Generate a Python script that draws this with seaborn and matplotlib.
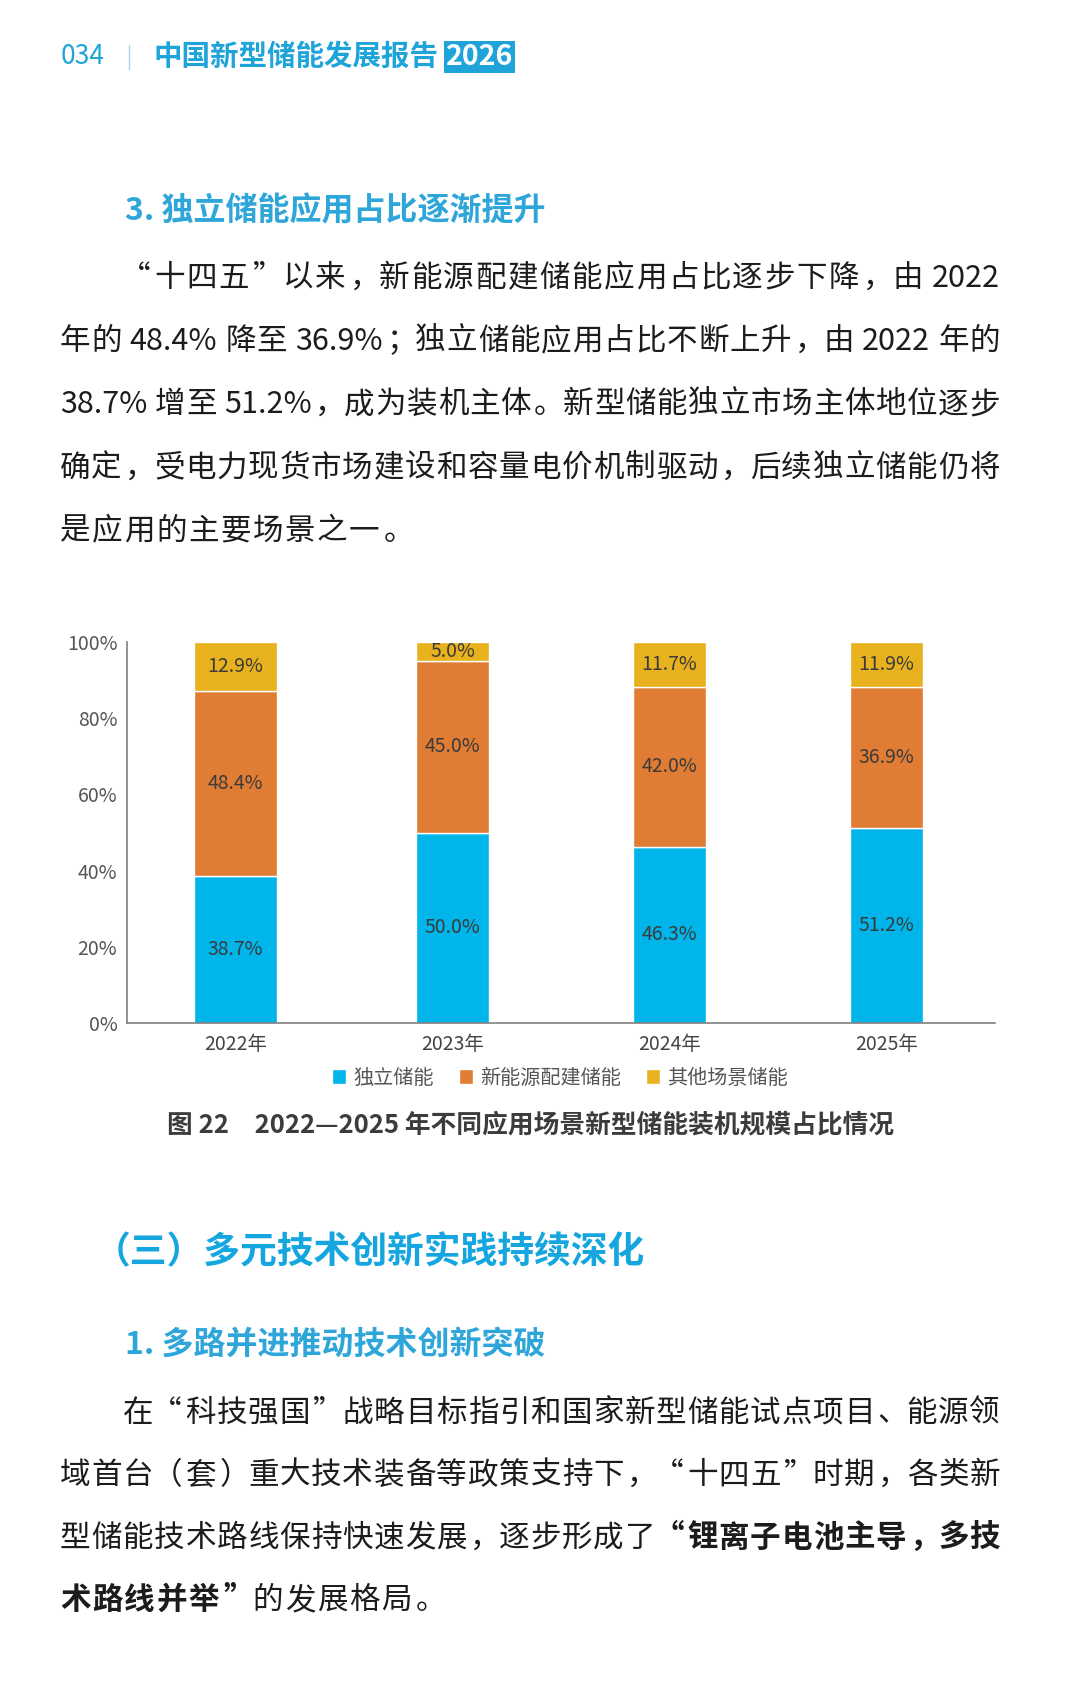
"""Page from 中国新型储能发展报告2026: stacked share chart (图 22) with its text."""
import re

import matplotlib

matplotlib.use("Agg")
import matplotlib.pyplot as plt
import numpy as np
import pandas as pd
import seaborn as sns

W, H, DPI = 1080, 1707, 100

# --- chart data -------------------------------------------------------------
years = ["2022年", "2023年", "2024年", "2025年"]
independent = [38.7, 50.0, 46.3, 51.2]   # 独立储能
renewable = [48.4, 45.0, 42.0, 36.9]     # 新能源配建储能
other = [12.9, 5.0, 11.7, 11.9]          # 其他场景储能
series_names = ["独立储能", "新能源配建储能", "其他场景储能"]
y_ticks = [0, 20, 40, 60, 80, 100]

# --- page text ----------------------------------------------------------------
page_no = "034"
report_title = "中国新型储能发展报告"
report_year = "2026"
heading_1 = "3. 独立储能应用占比逐渐提升"
para_1 = [
    [("“十四五”以来，新能源配建储能应用占比逐步下降，由 2022", False)],
    [("年的 48.4% 降至 36.9%；独立储能应用占比不断上升，由 2022 年的", False)],
    [("38.7% 增至 51.2%，成为装机主体。新型储能独立市场主体地位逐步", False)],
    [("确定，受电力现货市场建设和容量电价机制驱动，后续独立储能仍将", False)],
    [("是应用的主要场景之一。", False)],
]
caption = "图 22　2022—2025 年不同应用场景新型储能装机规模占比情况"
heading_2 = "（三）多元技术创新实践持续深化"
heading_3 = "1. 多路并进推动技术创新突破"
para_2 = [
    [("在“科技强国”战略目标指引和国家新型储能试点项目、能源领", False)],
    [("域首台（套）重大技术装备等政策支持下，“十四五”时期，各类新", False)],
    [("型储能技术路线保持快速发展，逐步形成了", False), ("“锂离子电池主导，多技", True)],
    [("术路线并举”", True), ("的发展格局。", False)],
]

BLUE = "#00b5ea"
ORANGE = "#e07c34"
GOLD = "#e8b21e"
HEAD_BLUE = "#1fa4da"
BAR_WIDTHS = [0.38, 0.34, 0.34, 0.34]   # the 2022 bar is drawn a little wider

sns.set_theme(style="white")
plt.rcParams["font.family"] = ["Noto Sans CJK SC", "DejaVu Sans"]


def fx(x):
    return x / W


def fy(y):
    return 1 - y / H


TOKEN = re.compile(r"[A-Za-z0-9.%]+| +|.")
OPENING = "“（"
CLOSING = "”）"
PUNCT = "，。、；："


def draw_line(fig, renderer, segments, x0, x1, yc, size, color, justify=True):
    """Lay out one justified line of mixed CJK / Latin text, token by token."""
    em = size * DPI / 72
    toks = []
    for txt, bold in segments:
        for m in TOKEN.finditer(txt):
            toks.append((m.group(), bold))
    widths = []
    for tok, bold in toks:
        if tok.isspace():
            widths.append(0.2 * em)
        elif ord(tok[0]) > 0x2000:
            widths.append(em)
        else:
            t = fig.text(0, 0, tok, fontsize=size,
                         weight="bold" if bold else "normal")
            widths.append(t.get_window_extent(renderer).width)
            t.remove()
    gaps = len(toks) - 1
    if justify and gaps:
        extra = ((x1 - x0) - sum(widths)) / gaps
    else:
        extra = 0.05 * em   # light tracking on a paragraph's last line
    base = yc + 0.38 * em
    x = x0
    for (tok, bold), w in zip(toks, widths):
        kw = dict(fontsize=size, color=color, va="baseline",
                  weight="bold" if bold else "normal")
        if tok.isspace():
            pass
        elif tok in OPENING:
            fig.text(fx(x + w - 0.08 * em), fy(base), tok, ha="right", **kw)
        elif tok in CLOSING or tok in PUNCT:
            fig.text(fx(x + 0.08 * em), fy(base), tok, ha="left", **kw)
        elif ord(tok[0]) > 0x2000:
            fig.text(fx(x + w / 2), fy(base), tok, ha="center", **kw)
        else:
            fig.text(fx(x), fy(base), tok, ha="left", **kw)
        x += w + extra


def draw_paragraph(fig, renderer, lines, y_first, step, size=22):
    em = 22.5 * DPI / 72
    for i, segs in enumerate(lines):
        x0 = 60 + (2 * em if i == 0 else 0)
        last = i == len(lines) - 1
        draw_line(fig, renderer, segs, x0, 1000, y_first + i * step, size,
                  "#1c1c1c", justify=not last)


fig = plt.figure(figsize=(W / DPI, H / DPI), dpi=DPI)
fig.patch.set_facecolor("white")
renderer = fig.canvas.get_renderer()

# --- running header -------------------------------------------------------------
fig.text(fx(61), fy(57), page_no, fontsize=19, color=HEAD_BLUE,
         ha="left", va="center")
fig.add_artist(plt.Line2D([fx(129), fx(129)], [fy(45), fy(69)],
                          transform=fig.transFigure, color="#9fd4ec", lw=1))
t_title = fig.text(fx(153), fy(57), report_title, fontsize=20.5,
                   weight="bold", color=HEAD_BLUE, ha="left", va="center")
x_end = t_title.get_window_extent(renderer).x1
fig.text(fx(x_end + 8), fy(57), report_year, fontsize=20.5, weight="bold",
         color="white", ha="left", va="center",
         bbox=dict(boxstyle="square,pad=0.06", fc=HEAD_BLUE, ec="none"))

# --- section 3 heading and paragraph -------------------------------------
fig.text(fx(125), fy(211), heading_1, fontsize=23, weight="bold",
         color="#2ea6da", ha="left", va="center")
draw_paragraph(fig, renderer, para_1, 275, 63.3)

# --- stacked bar chart ------------------------------------------------------
ax = fig.add_axes([fx(127), fy(1023), (995 - 127) / W, (1023 - 642) / H])
df = pd.DataFrame({"year": years, "independent": independent,
                   "renewable": renewable, "other": other})
cols = ["independent", "renewable", "other"]
colors = [BLUE, ORANGE, GOLD]
bottom = np.zeros(len(years))
for col, color, name in zip(cols, colors, series_names):
    sns.barplot(data=df, x="year", y=col, bottom=bottom.copy(), color=color,
                saturation=1, width=0.34, errorbar=None, label=name, ax=ax)
    bottom += df[col].to_numpy()

for cont, col in zip(ax.containers, cols):
    for patch, w in zip(cont.patches, BAR_WIDTHS):
        centre = patch.get_x() + patch.get_width() / 2
        patch.set_width(w)
        patch.set_x(centre - w / 2)
    ax.bar_label(cont, labels=[f"{v:.1f}%" for v in df[col]],
                 label_type="center", fontsize=14, color="#3b3b3b")

ax.set_xlim(-0.5, len(years) - 0.5)
ax.set_ylim(0, 100)
ax.set_yticks(y_ticks)
ax.set_yticklabels([f"{t}%" for t in y_ticks])
ax.set_xticks(np.arange(len(years)) + 0.5, minor=True)
ax.set_xlabel("")
ax.set_ylabel("")
sns.despine(ax=ax)
for side in ("left", "bottom"):
    ax.spines[side].set_color("#808080")
    ax.spines[side].set_linewidth(1.2)
ax.tick_params(axis="y", direction="in", length=6, width=1.1, color="#808080",
               labelsize=14, labelcolor="#555555", pad=7)
ax.tick_params(axis="x", which="major", length=0, labelsize=14,
               labelcolor="#444444", pad=8)
ax.tick_params(axis="x", which="minor", direction="in", length=6, width=1.1,
               color="#808080")
if ax.get_legend() is not None:
    ax.get_legend().remove()

handles, labels = ax.get_legend_handles_labels()
fig.legend(handles, labels, loc="center", ncol=3, frameon=False,
           bbox_to_anchor=(fx(560), fy(1078)), fontsize=14.5,
           handlelength=0.7, handleheight=0.7, handletextpad=0.35,
           columnspacing=1.25, labelcolor="#555555")

fig.text(fx(531), fy(1125), caption, fontsize=18.5, weight="bold",
         color="#3c3c3c", ha="center", va="center")

# --- section (三) ---------------------------------------------------------------
fig.text(fx(94), fy(1253), heading_2, fontsize=26.5, weight="bold",
         color="#16a6df", ha="left", va="center")
fig.text(fx(125), fy(1345), heading_3, fontsize=23, weight="bold",
         color="#2ea6da", ha="left", va="center")
draw_paragraph(fig, renderer, para_2, 1410, 62.5)

fig.savefig("out.png", dpi=DPI, facecolor="white")
plt.close(fig)
